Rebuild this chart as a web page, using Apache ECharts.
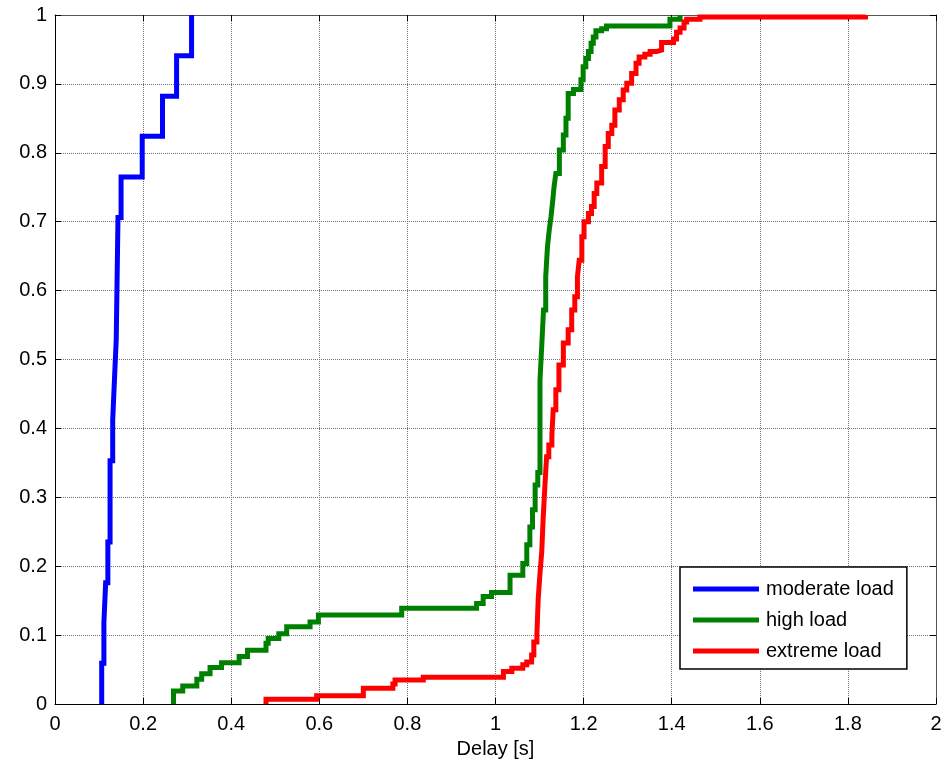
<!DOCTYPE html>
<html>
<head>
<meta charset="utf-8">
<script src="https://cdn.jsdelivr.net/npm/echarts@6/dist/echarts.min.js"></script>
<style>
  html, body { margin: 0; padding: 0; background: #fff; overflow: hidden; }
  #chart { width: 947px; height: 763px; }
</style>
</head>
<body>
<div id="chart"></div>
<script>
// Empirical CDFs of the delay: each pair of arrays holds the delay at
// which the CDF jumps and the cumulative level reached after that jump.
const seriesNames = ['moderate load', 'high load', 'extreme load'];

const moderateDelay = [0.106, 0.111, 0.115, 0.120, 0.125, 0.131, 0.135, 0.139, 0.143, 0.150, 0.198, 0.244, 0.276, 0.310];
const moderateCdf   = [0.059, 0.118, 0.176, 0.235, 0.353, 0.412, 0.471, 0.529, 0.706, 0.765, 0.824, 0.882, 0.941, 1.000];

const highDelay = [0.269, 0.290, 0.322, 0.333, 0.352, 0.378, 0.418, 0.437, 0.479, 0.484, 0.508, 0.526,
  0.579, 0.598, 0.787, 0.957, 0.972, 0.991, 1.033, 1.062, 1.071, 1.078, 1.084, 1.090, 1.096,
  1.101, 1.105, 1.109, 1.114, 1.118, 1.122, 1.126, 1.130, 1.133, 1.137, 1.145, 1.154, 1.160,
  1.165, 1.177, 1.194, 1.199, 1.205, 1.211, 1.217, 1.222, 1.228, 1.241, 1.252, 1.396, 1.419];
const highCdf = [0.019, 0.026, 0.036, 0.044, 0.053, 0.060, 0.069, 0.078, 0.088, 0.095, 0.102, 0.112,
  0.119, 0.129, 0.139, 0.146, 0.156, 0.162, 0.187, 0.204, 0.231, 0.257, 0.282, 0.318, 0.336,
  0.470, 0.520, 0.572, 0.620, 0.664, 0.688, 0.707, 0.731, 0.751, 0.770, 0.804, 0.826, 0.850,
  0.886, 0.892, 0.906, 0.925, 0.937, 0.947, 0.959, 0.968, 0.977, 0.980, 0.984, 0.994, 1.000];

const extremeDelay = [0.479, 0.594, 0.700, 0.767, 0.772, 0.836, 1.018, 1.037, 1.062, 1.071, 1.082,
  1.087, 1.094, 1.097, 1.101, 1.105, 1.108, 1.112, 1.116, 1.121, 1.128, 1.131, 1.137, 1.144,
  1.154, 1.165, 1.173, 1.180, 1.186, 1.190, 1.196, 1.201, 1.211, 1.218, 1.224, 1.230, 1.241,
  1.249, 1.256, 1.264, 1.271, 1.281, 1.290, 1.298, 1.309, 1.319, 1.326, 1.339, 1.351, 1.366,
  1.377, 1.404, 1.411, 1.419, 1.428, 1.434, 1.464, 1.840];
const extremeCdf = [0.007, 0.012, 0.023, 0.029, 0.035, 0.039, 0.047, 0.052, 0.057, 0.061, 0.071,
  0.090, 0.102, 0.153, 0.190, 0.221, 0.267, 0.315, 0.359, 0.376, 0.390, 0.427, 0.456, 0.492,
  0.524, 0.543, 0.572, 0.591, 0.620, 0.644, 0.678, 0.700, 0.712, 0.722, 0.741, 0.756, 0.780,
  0.809, 0.828, 0.840, 0.862, 0.877, 0.891, 0.901, 0.915, 0.930, 0.939, 0.943, 0.947, 0.949,
  0.960, 0.965, 0.975, 0.981, 0.990, 0.994, 0.997, 1.000];

const xAxisName = 'Delay [s]';
const seriesColors = ['#0000ff', '#008000', '#ff0000'];

// A CDF starts from zero at its first sample, then steps up at each delay.
function cdfPoints(delay, cdf) {
  const pts = [[delay[0], 0]];
  for (let i = 0; i < delay.length; i++) pts.push([delay[i], cdf[i]]);
  return pts;
}

const font = 'Liberation Sans, Arial, Helvetica, sans-serif';
const gridLine = { show: true, lineStyle: { color: '#707070', type: 'dotted', width: 1 } };

const chart = echarts.init(document.getElementById('chart'), null, { renderer: 'canvas' });
chart.setOption({
  animation: false,
  backgroundColor: '#ffffff',
  textStyle: { fontFamily: font },
  grid: { left: 55, right: 11, top: 15, bottom: 59, containLabel: false, outerBoundsMode: 'none' },
  legend: {
    data: seriesNames,
    orient: 'vertical',
    left: 680,
    top: 567,
    padding: [12, 13, 8, 13],
    itemGap: 11,
    itemWidth: 66,
    itemHeight: 5,
    icon: 'rect',
    backgroundColor: '#ffffff',
    borderColor: '#000000',
    borderWidth: 1.5,
    borderRadius: 0,
    textStyle: { fontFamily: font, fontSize: 20, color: '#000000', padding: [0, 0, 0, 2] }
  },
  xAxis: [
    {
      type: 'value', min: 0, max: 2, interval: 0.2, position: 'bottom',
      name: xAxisName, nameLocation: 'middle', nameGap: 35,
      nameTextStyle: { fontFamily: font, fontSize: 20, color: '#000' },
      axisLine: { show: true, onZero: false, lineStyle: { color: '#000', width: 1 } },
      axisTick: { show: true, inside: true, length: 6, lineStyle: { color: '#000' } },
      axisLabel: { fontFamily: font, fontSize: 20, color: '#000', margin: 10 },
      splitLine: gridLine
    },
    {
      type: 'value', min: 0, max: 2, interval: 0.2, position: 'top',
      axisLine: { show: true, onZero: false, lineStyle: { color: '#555', width: 1 } },
      axisTick: { show: true, inside: true, length: 6, lineStyle: { color: '#000' } },
      axisLabel: { show: false },
      splitLine: { show: false }
    }
  ],
  yAxis: [
    {
      type: 'value', min: 0, max: 1, interval: 0.1, position: 'left',
      axisLine: { show: true, onZero: false, lineStyle: { color: '#000', width: 1 } },
      axisTick: { show: true, inside: true, length: 6, lineStyle: { color: '#000' } },
      axisLabel: { fontFamily: font, fontSize: 20, color: '#000', margin: 8 },
      splitLine: gridLine
    },
    {
      type: 'value', min: 0, max: 1, interval: 0.1, position: 'right',
      axisLine: { show: true, onZero: false, lineStyle: { color: '#555', width: 1 } },
      axisTick: { show: true, inside: true, length: 6, lineStyle: { color: '#000' } },
      axisLabel: { show: false },
      splitLine: { show: false }
    }
  ],
  series: [
    [moderateDelay, moderateCdf],
    [highDelay, highCdf],
    [extremeDelay, extremeCdf]
  ].map(([d, c], i) => ({
    name: seriesNames[i],
    type: 'line',
    step: 'end',
    xAxisIndex: 0,
    yAxisIndex: 0,
    showSymbol: false,
    symbol: 'none',
    clip: true,
    color: seriesColors[i],
    lineStyle: { color: seriesColors[i], width: 5, join: 'miter' },
    data: cdfPoints(d, c)
  }))
});
</script>
</body>
</html>
